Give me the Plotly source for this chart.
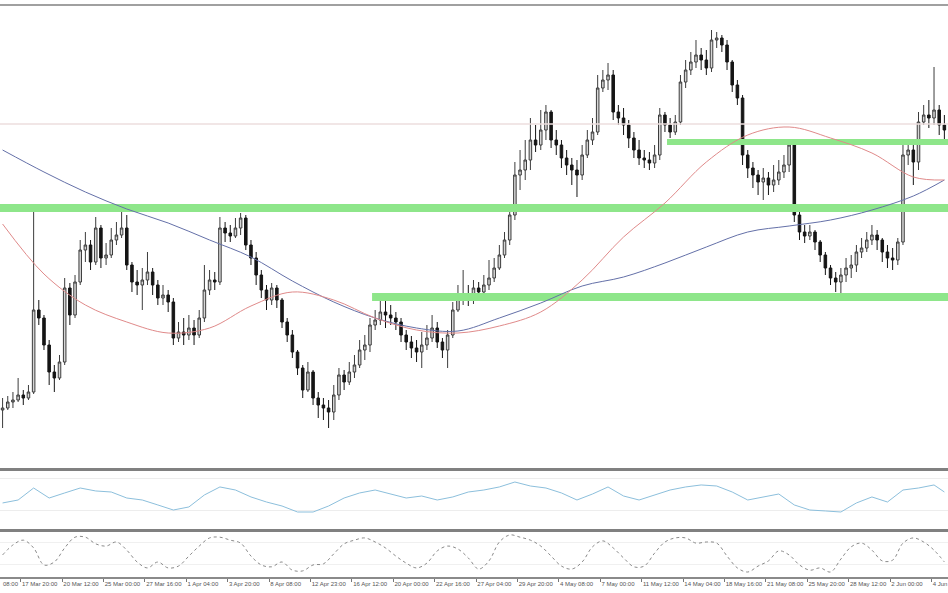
import plotly.graph_objects as go

# ---------------- data (price in chart points) ----------------
first_open = 60
closes = [62,68,70,75,72,78,160,152,125,98,
          92,108,182,155,188,220,225,208,242,212,
          215,230,235,242,205,188,185,190,198,185,
          172,175,168,132,138,135,142,135,152,180,
          190,188,242,237,234,242,252,225,212,195,
          180,170,182,170,148,135,118,102,80,98,
          72,65,62,58,75,95,88,98,105,120,
          125,145,150,158,155,152,148,135,128,122,
          118,125,132,142,128,120,135,160,172,175,
          170,182,178,185,192,202,215,230,255,295,
          300,310,330,325,340,358,330,325,312,305,
          300,295,315,330,338,382,390,395,358,352,
          345,332,320,312,310,307,315,355,345,338,
          348,388,400,408,415,410,402,430,432,425,
          408,385,372,315,302,295,288,292,285,290,
          298,305,325,255,238,234,238,228,215,202,
          192,188,195,202,205,218,222,230,235,230,
          218,212,210,228,315,320,308,348,355,352,
          360,345,340]
highs = [72,74,78,92,80,85,262,170,155,130,
         105,115,192,187,195,230,238,230,253,245,
         227,242,248,263,255,208,200,202,218,202,
         190,185,180,172,148,152,155,150,160,205,
         200,198,253,248,245,252,257,255,230,218,
         200,185,187,185,172,152,140,120,105,108,
         100,78,72,70,85,102,100,108,115,130,
         135,152,160,170,177,165,158,152,140,134,
         130,138,145,155,148,132,140,168,185,200,
         185,190,188,195,210,212,225,238,265,308,
         320,330,352,345,360,365,360,340,330,320,
         312,310,325,340,352,395,400,407,400,365,
         362,350,338,330,320,318,325,362,358,352,
         355,395,410,418,430,422,420,440,438,435,
         430,410,390,375,320,308,300,302,298,305,
         310,315,330,328,258,245,245,240,230,218,
         205,198,202,212,215,225,232,238,245,240,
         232,225,222,232,325,330,325,358,365,370,
         403,365,355]
lows = [42,60,62,68,65,70,76,145,120,85,
        78,90,105,145,152,185,208,200,205,202,
        205,212,225,232,200,178,175,160,185,175,
        165,165,158,125,128,125,130,125,132,148,
        175,180,185,228,228,232,235,220,205,185,
        172,160,165,162,142,128,112,95,72,78,
        65,52,50,42,50,70,80,85,92,102,
        110,118,140,145,142,145,140,128,120,112,
        108,102,120,128,122,112,102,132,158,165,
        164,166,170,173,180,188,200,212,225,250,
        280,290,300,318,320,330,322,315,302,295,
        285,273,290,312,325,335,378,380,350,345,
        335,322,312,305,302,300,302,310,338,332,
        335,345,382,395,402,400,395,398,422,418,
        400,378,365,305,292,282,275,270,275,278,
        285,292,298,248,230,227,230,220,208,195,
        185,178,170,188,192,198,212,218,225,220,
        208,202,200,205,225,305,285,300,345,342,
        345,335,330]
opens = [first_open] + closes[:-1]
bars = list(range(len(closes)))

# moving averages (read at every 8th bar)
ma_bars = [0,8,16,24,32,40,48,56,64,72,80,88,96,104,112,120,128,136,144,152,160,168,176,182]
ma_slow = [320,298,278,261,247,230,213,189,168,152,142,139,152,167,184,193,207,223,238,244,250,260,274,290]
ma_fast = [246,196,165,148,137,142,164,178,170,152,140,137,144,158,190,233,267,308,335,343,332,317,293,290]

# support / resistance levels: (level, first bar)
sr_levels = [262, 173, 328]
sr_start = [-0.5, 71.4, 128.4]
sr_width = [8, 8, 6]
ref_level = 346

# oscillator 1 (RSI-like), read every 3rd bar
rsi_bars = list(range(0, 181, 3)) + [182]
rsi_vals = [38.8,42.5,57.5,45,51.3,57.5,53.8,52.5,45,42.5,
            36.3,30,33.8,48.8,58.8,55,46.3,40,35,27.5,
            27.5,35,45,51.3,55,50,45,47.5,42.5,46.3,
            52.5,55,58.8,65,60,57.5,51.3,42.5,50,58.8,
            47.5,42.5,48.8,55,58.8,61.3,60,52.5,42.5,46.3,
            50,36.3,30,28.8,27.5,38.8,46.3,40,55,57.5,
            61.3,52.5]

# oscillator 2 (stochastic), read every 2nd bar
sto_bars = list(range(0, 183, 2))
sto_vals = [46,73,86,65,19,27,65,94,94,76,
            70,81,59,27,11,27,11,16,43,70,
            92,94,86,78,43,19,14,27,5,3,
            19,22,49,76,86,92,81,65,43,24,
            11,24,57,70,62,38,8,30,81,100,
            94,86,70,43,16,8,27,68,84,65,
            38,14,16,51,81,92,92,78,81,78,
            43,11,0,16,30,57,46,19,5,11,
            0,35,68,78,59,30,32,78,92,81,
            59,27]

# time axis labels
tick_bars = [3.5 + 8 * k for k in range(23)]
tick_text = ["17 Mar 20:00","20 Mar 12:00","25 Mar 00:00","27 Mar 16:00","1 Apr 04:00",
             "3 Apr 20:00","8 Apr 08:00","12 Apr 23:00","16 Apr 12:00","20 Apr 00:00",
             "22 Apr 16:00","27 Apr 04:00","29 Apr 20:00","4 May 08:00","7 May 00:00",
             "11 May 12:00","14 May 04:00","18 May 16:00","21 May 08:00","25 May 20:00",
             "28 May 12:00","2 Jun 00:00","4 Jun"]
lead_label = "08:00"

# ---------------- figure ----------------
W, H = 948, 593
XR = [-0.5, 182.7]
fig = go.Figure()

# reference line & S/R bands
fig.add_trace(go.Scatter(x=XR, y=[ref_level, ref_level], mode="lines",
                         line=dict(color="#ecdede", width=1.5), hoverinfo="skip",
                         showlegend=False, xaxis="x", yaxis="y"))
for lvl, st, wd in zip(sr_levels, sr_start, sr_width):
    fig.add_trace(go.Scatter(x=[st, XR[1]], y=[lvl, lvl], mode="lines",
                             line=dict(color="#8ee68a", width=wd), hoverinfo="skip",
                             showlegend=False, xaxis="x", yaxis="y"))

fig.add_trace(go.Scatter(x=ma_bars, y=ma_slow, mode="lines", line=dict(color="#6470a8", width=1, shape="spline"),
                         hoverinfo="skip", showlegend=False, xaxis="x", yaxis="y"))
fig.add_trace(go.Scatter(x=ma_bars, y=ma_fast, mode="lines", line=dict(color="#e08a8a", width=1, shape="spline"),
                         hoverinfo="skip", showlegend=False, xaxis="x", yaxis="y"))

fig.add_trace(go.Candlestick(x=bars, open=opens, high=highs, low=lows, close=closes,
                             increasing=dict(line=dict(color="#3c3c3c", width=1), fillcolor="#d6d6d6"),
                             decreasing=dict(line=dict(color="#151515", width=1), fillcolor="#151515"),
                             whiskerwidth=0, hoverinfo="skip", showlegend=False,
                             xaxis="x", yaxis="y"))

fig.add_trace(go.Scatter(x=rsi_bars, y=rsi_vals, mode="lines", line=dict(color="#8cbfdc", width=1),
                         hoverinfo="skip", showlegend=False, xaxis="x2", yaxis="y2"))
fig.add_trace(go.Scatter(x=sto_bars, y=sto_vals, mode="lines",
                         line=dict(color="#8a8a8a", width=1, dash="dot", shape="spline"),
                         hoverinfo="skip", showlegend=False, xaxis="x3", yaxis="y3"))

def py(px):
    return (H - px) / H

common_x = dict(range=XR, showgrid=False, zeroline=False, fixedrange=True, automargin=False)
fig.update_layout(
    width=W, height=H, margin=dict(l=0, r=0, t=0, b=0, autoexpand=False),
    paper_bgcolor="white", plot_bgcolor="white",
    font=dict(family="Liberation Sans, Arial, sans-serif", size=6, color="#555"),
    xaxis=dict(**common_x, domain=[0, 1], anchor="y", showticklabels=False, ticks="",
               showline=True, linecolor="#808080", linewidth=3, rangeslider=dict(visible=False)),
    yaxis=dict(domain=[py(468), py(6)], range=[2, 464], visible=False, fixedrange=True, automargin=False),
    xaxis2=dict(**common_x, domain=[0, 1], anchor="y2", matches="x", showticklabels=False, ticks="",
                showline=True, linecolor="#808080", linewidth=3),
    yaxis2=dict(domain=[py(529), py(470)], range=[6.25, 80], showticklabels=False, ticks="",
                showgrid=True, gridcolor="#ededed", gridwidth=1, tickvals=[30, 70],
                zeroline=False, showline=False, fixedrange=True, automargin=False),
    xaxis3=dict(**common_x, domain=[0, 1], anchor="y3", matches="x",
                tickmode="array", tickvals=tick_bars, ticktext=tick_text, tickangle=0,
                ticks="outside", ticklen=3, tickcolor="#777", tickwidth=1,
                ticklabelposition="outside right", tickfont=dict(size=6, color="#555"),
                showline=True, linecolor="#8a8a8a", linewidth=1.5),
    yaxis3=dict(domain=[py(577), py(531)], range=[-13.5, 110.7], showticklabels=False, ticks="",
                showgrid=True, gridcolor="#f0f0f0", gridwidth=1, tickvals=[20, 80],
                zeroline=False, showline=False, fixedrange=True, automargin=False),
    shapes=[dict(type="line", xref="paper", yref="paper", x0=0, x1=1, y0=py(5), y1=py(5),
                 line=dict(color="#a0a0a0", width=2))],
    annotations=[dict(text=lead_label, xref="paper", yref="paper", x=1 / W, y=py(584),
                      xanchor="left", yanchor="middle", showarrow=False,
                      font=dict(size=6, color="#555"))],
)

fig.write_html("out.html", config={"displayModeBar": False, "staticPlot": True},
               post_script="document.body.style.margin='0';document.body.style.overflow='hidden';")
